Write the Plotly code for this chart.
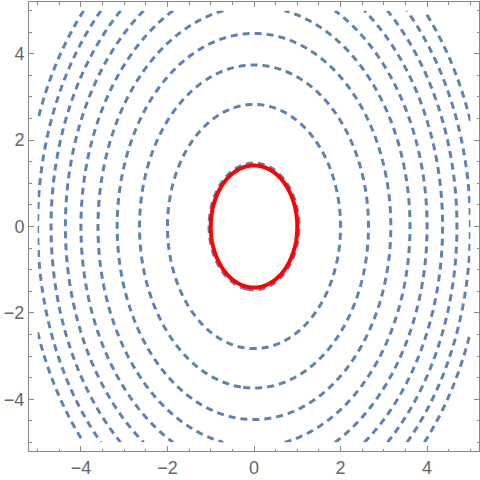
import numpy as np
import plotly.graph_objects as go

# Contour levels of f(x, y) = x^2 + y^2/2
blue_levels = [1.08, 4, 7, 10, 13, 16, 19, 22, 25, 28]
red_level = 1.0
domain = [-5, 5]
axis_range = [-5.2, 5.2]
tick_vals = [-4, -2, 0, 2, 4]
tick_text = ["\u22124", "\u22122", "0", "2", "4"]

gx = np.linspace(domain[0], domain[1], 401)
gy = np.linspace(domain[0], domain[1], 401)
X, Y = np.meshgrid(gx, gy)
Z = X**2 + Y**2 / 2

fig = go.Figure()
for lv in blue_levels:
    fig.add_trace(go.Contour(
        x=gx, y=gy, z=Z,
        contours=dict(coloring="none", start=lv, end=lv, size=1),
        line=dict(color="#5E81B5", width=3, dash="7px,5px"),
        showscale=False, hoverinfo="skip",
    ))
fig.add_trace(go.Contour(
    x=gx, y=gy, z=Z,
    contours=dict(coloring="none", start=red_level, end=red_level, size=1),
    line=dict(color="#FF0000", width=4),
    showscale=False, hoverinfo="skip",
))

axis_common = dict(
    range=axis_range, tickvals=tick_vals, ticktext=tick_text,
    ticks="inside", ticklen=5, tickwidth=1, tickcolor="#888888",
    showline=True, linecolor="#888888", linewidth=1, mirror="ticks",
    showgrid=False, zeroline=False, automargin=False,
    tickfont=dict(family="Liberation Sans, Arial, sans-serif", size=18, color="#666666"),
    minor=dict(dtick=0.5, tick0=0, ticks="inside", ticklen=2.5, tickcolor="#888888", showgrid=False),
)
fig.update_xaxes(**axis_common)
fig.update_yaxes(**axis_common)
fig.update_layout(
    width=480, height=480,
    margin=dict(l=29, r=1, t=2, b=29),
    plot_bgcolor="white", paper_bgcolor="white",
    showlegend=False,
)
fig.write_html("out.html", config={"displayModeBar": False},
               post_script="document.body.style.margin='0px';document.body.style.overflow='hidden';")
